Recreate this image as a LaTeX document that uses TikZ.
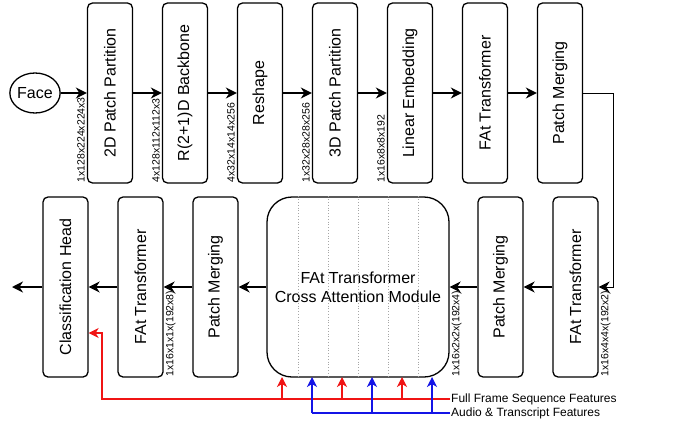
\documentclass[tikz,border=0pt]{standalone}
\usepackage{fontspec}
\setmainfont{Liberation Sans}
\usetikzlibrary{arrows.meta,shapes.geometric}
\definecolor{fred}{RGB}{240,20,20}
\definecolor{fblue}{RGB}{20,20,230}
\begin{document}
\begin{tikzpicture}[x=1pt,y=-1pt,
  stagebox/.style={draw, line width=1.3pt, rounded corners=5pt, minimum width=45pt, minimum height=180pt, inner sep=0pt, font=\fontsize{16}{19}\selectfont},
  dimlbl/.style={rotate=90, inner sep=1pt, font=\fontsize{10.5}{12}\selectfont},
  flow/.style={line width=1.8pt, -{Stealth[length=11pt,width=11pt,inset=3.5pt]}},
  thinflow/.style={line width=1pt, -{Stealth[length=11pt,width=11pt,inset=3.5pt]}},
  feat/.style={line width=1.3pt, -{Stealth[length=10pt,width=10pt,inset=3pt]}},
  legend/.style={anchor=west, inner sep=1pt, font=\fontsize{12}{14}\selectfont}]
\useasboundingbox (0,0) rectangle (690,431);

% top row
\node[draw, ellipse, line width=1.3pt, minimum width=44pt, minimum height=40pt, inner sep=0pt, font=\fontsize{16}{19}\selectfont] (face) at (35,93) {Face};
\node[stagebox] (t1) at (110,93) {\rotatebox{90}{2D Patch Partition}};
\node[stagebox] (t2) at (185,93) {\rotatebox{90}{R(2+1)D Backbone}};
\node[stagebox] (t3) at (260,93) {\rotatebox{90}{Reshape}};
\node[stagebox] (t4) at (335,93) {\rotatebox{90}{3D Patch Partition}};
\node[stagebox] (t5) at (410,93) {\rotatebox{90}{Linear Embedding}};
\node[stagebox] (t6) at (485,93) {\rotatebox{90}{FAt Transformer}};
\node[stagebox] (t7) at (560,93) {\rotatebox{90}{Patch Merging}};

\draw[flow] (face) -- (t1);
\draw[flow] (t1) -- (t2);
\draw[flow] (t2) -- (t3);
\draw[flow] (t3) -- (t4);
\draw[flow] (t4) -- (t5);
\draw[flow] (t5) -- (t6);
\draw[flow] (t6) -- (t7);

\node[dimlbl, anchor=south west] (d1) at ([xshift=-1pt]t1.south west) {1x128x224x224x3};
\node[dimlbl, anchor=south west] (d2) at ([xshift=-1pt]t2.south west) {4x128x112x112x3};
\node[dimlbl, anchor=south west] (d3) at ([xshift=-1pt]t3.south west) {4x32x14x14x256};
\node[dimlbl, anchor=south west] (d4) at ([xshift=-1pt]t4.south west) {1x32x28x28x256};
\node[dimlbl, anchor=south west] (d5) at ([xshift=-1pt]t5.south west) {1x16x8x8x192};

% bottom row
\node[stagebox] (ch) at (65.5,287) {\rotatebox{90}{Classification Head}};
\node[stagebox] (b1) at (140.5,287) {\rotatebox{90}{FAt Transformer}};
\node[stagebox] (b2) at (215.5,287) {\rotatebox{90}{Patch Merging}};
\node[draw, line width=1.3pt, rounded corners=25pt, minimum width=182pt, minimum height=180pt, inner sep=0pt, align=center, font=\fontsize{16}{19}\selectfont] (ca) at (358,287) {FAt Transformer\\Cross Attention Module};
\node[stagebox] (b4) at (500.5,287) {\rotatebox{90}{Patch Merging}};
\node[stagebox] (b5) at (575.5,287) {\rotatebox{90}{FAt Transformer}};

\foreach \dx in {-60,-30,0,30,60}
  \draw[gray!70, line width=0.8pt, dotted] ([xshift=\dx pt]ca.north) -- ([xshift=\dx pt]ca.south);

\coordinate (turn1) at (613,93);
\coordinate (turn2) at (613,287);
\coordinate (out) at (12,287);
\draw[thinflow] (t7.east) -- (turn1) -- (turn2) -- (b5.east);
\draw[flow] (b5) -- (b4);
\draw[flow] (b4) -- (ca);
\draw[flow] (ca) -- (b2);
\draw[flow] (b2) -- (b1);
\draw[flow] (b1) -- (ch);
\draw[flow] (ch) -- (out);

\node[dimlbl, anchor=north west] (d6) at ([xshift=1pt]b1.south east) {1x16x1x1x(192x8)};
\node[dimlbl, anchor=north west] (d7) at ([xshift=1pt]ca.south east) {1x16x2x2x(192x4)};
\node[dimlbl, anchor=north west] (d8) at ([xshift=1pt]b5.south east) {1x16x4x4x(192x2)};

% legend and feature inputs
\node[legend] (lf) at (450,399) {Full Frame Sequence Features};
\node[legend] (la) at (450,413) {Audio \& Transcript Features};

\coordinate (r1) at (102,399);
\coordinate (r2) at (102,333);
\draw[fred, feat] (lf.west) -- (r1) -- (r2) -- (ch.east |- r2);
\foreach \x in {282,342,402}
  \draw[fred, feat] (\x,399) -- (\x,377);

\coordinate (bl) at (312,413);
\draw[fblue, line width=1.3pt] (la.west) -- (bl);
\foreach \x in {312,372,432}
  \draw[fblue, feat] (\x,413) -- (\x,377);
\end{tikzpicture}
\end{document}
